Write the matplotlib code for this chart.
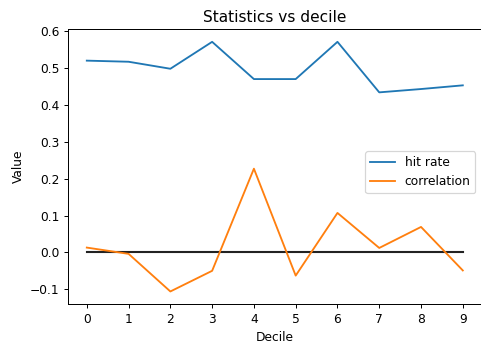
import matplotlib
matplotlib.use("Agg")
import matplotlib.pyplot as plt

deciles = [0, 1, 2, 3, 4, 5, 6, 7, 8, 9]
hit_rate = [0.520, 0.517, 0.498, 0.571, 0.470, 0.470, 0.571, 0.434, 0.443, 0.453]
correlation = [0.013, -0.004, -0.106, -0.050, 0.227, -0.063, 0.107, 0.012, 0.069, -0.049]
zero_line = [0.0] * len(deciles)

W, H = 481, 345
DPI = 88.6
fig = plt.figure(figsize=(W / DPI, H / DPI), dpi=DPI)
left, right, top, bottom = 68, 481.6, 29.3, 304
ax = fig.add_axes([left / W, 1 - bottom / H, (right - left) / W, (bottom - top) / H])

ax.plot(deciles, zero_line, color="#222222", lw=1.7, zorder=1.9)
ax.plot(deciles, hit_rate, label="hit rate", color="#1f77b4", lw=1.5)
ax.plot(deciles, correlation, label="correlation", color="#ff7f0e", lw=1.5)

ax.set_xticks(deciles)
ax.set_ylim(-0.14, 0.605)
ax.set_title("Statistics vs decile", fontsize=12.5)
ax.set_xlabel("Decile")
ax.set_ylabel("Value")
ax.legend(loc="center right", bbox_to_anchor=(1.0, 0.48))

fig.savefig("out.png", dpi=DPI)
